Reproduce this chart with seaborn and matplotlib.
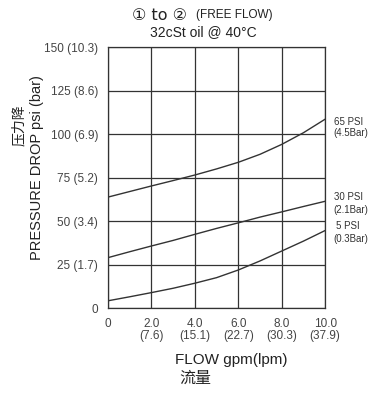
import matplotlib
matplotlib.use("Agg")
import matplotlib.pyplot as plt
import seaborn as sns
import pandas as pd

flow = [0, 1, 2, 3, 4, 5, 6, 7, 8, 9, 10]
psi_65 = [63.8, 67.0, 70.2, 73.3, 76.5, 80.0, 83.8, 88.4, 94.1, 100.8, 108.6]
psi_30 = [29.0, 32.4, 35.7, 38.9, 42.4, 45.8, 49.0, 52.3, 55.3, 58.4, 61.4]
psi_5 = [4.2, 6.5, 8.9, 11.4, 14.3, 17.5, 21.9, 27.1, 32.8, 38.5, 44.6]
series_names = ["65 PSI", "30 PSI", "5 PSI"]
series_bar = ["(4.5Bar)", "(2.1Bar)", "(0.3Bar)"]

x_ticks = [0, 2, 4, 6, 8, 10]
x_ticklabels = ["0", "2.0\n(7.6)", "4.0\n(15.1)", "6.0\n(22.7)", "8.0\n(30.3)", "10.0\n(37.9)"]
y_ticks = [0, 25, 50, 75, 100, 125, 150]
y_ticklabels = ["0", "25 (1.7)", "50 (3.4)", "75 (5.2)", "100 (6.9)", "125 (8.6)", "150 (10.3)"]

sns.set_style("white")
plt.rcParams['font.family'] = ['Liberation Sans', 'DejaVu Sans', 'Noto Sans CJK SC']

n = len(flow)
df = pd.DataFrame({
    "flow": flow * 3,
    "dp": psi_65 + psi_30 + psi_5,
    "s": [series_names[0]] * n + [series_names[1]] * n + [series_names[2]] * n,
})

fig = plt.figure(figsize=(3.79, 3.96), dpi=100)
ax = fig.add_axes([0.285, 0.222, 0.573, 0.659])

for lab in series_names:
    sub = df[df["s"] == lab]
    sns.lineplot(data=sub, x="flow", y="dp", ax=ax, color="#333333", lw=1.0,
                 legend=False)

ax.set_xlim(0, 10)
ax.set_ylim(0, 150)
ax.set_xticks(x_ticks)
ax.set_xticklabels(x_ticklabels, fontsize=8.5, color="#444444", linespacing=1.0)
ax.set_yticks(y_ticks)
ax.set_yticklabels(y_ticklabels, fontsize=8.5, color="#444444")
ax.tick_params(length=0, pad=7)
for lbl in ax.get_xticklabels():
    lbl.set_verticalalignment("top")
ax.grid(True, color="#333333", lw=0.9)
for sp in ax.spines.values():
    sp.set_color("#333333")
    sp.set_linewidth(0.9)
ax.set_xlabel("")
ax.set_ylabel("")

# curve end labels (name line and bar line)
name_y = [107, 64, 47.4]
bar_y = [100.7, 56.4, 39.7]
name_dx = [6, 6, 7.5]
for nm, br, ny, by, dx in zip(series_names, series_bar, name_y, bar_y, name_dx):
    ax.annotate(nm, xy=(10, ny), xytext=(dx, 0), textcoords="offset points",
                fontsize=7, color="#333333", va="center", ha="left",
                annotation_clip=False)
    ax.annotate(br, xy=(10, by), xytext=(6, 0), textcoords="offset points",
                fontsize=7, color="#333333", va="center", ha="left",
                annotation_clip=False)

fig.text(0.493, 0.962, "① to ②", fontsize=11.5, ha="right", va="center",
         family=['DejaVu Sans', 'Noto Sans CJK SC'], color="#222222")
fig.text(0.517, 0.962, "(FREE FLOW)", fontsize=8.5, ha="left", va="center", color="#222222")
fig.text(0.536, 0.920, "32cSt oil @ 40°C", fontsize=10, ha="center", va="center", color="#222222")

fig.text(0.098, 0.577, "PRESSURE DROP psi (bar)", fontsize=10.5, rotation=90,
         ha="center", va="center", color="#222222")
fig.text(0.050, 0.684, "压力降", fontsize=10, rotation=90, ha="center", va="center",
         family=['Noto Sans CJK SC'], color="#222222")

fig.text(0.610, 0.091, "FLOW gpm(lpm)", fontsize=11, ha="center", va="center", color="#222222")
fig.text(0.515, 0.045, "流量", fontsize=11.5, ha="center", va="center",
         family=['Noto Sans CJK SC'], color="#222222")

fig.savefig("out.png", dpi=100)
